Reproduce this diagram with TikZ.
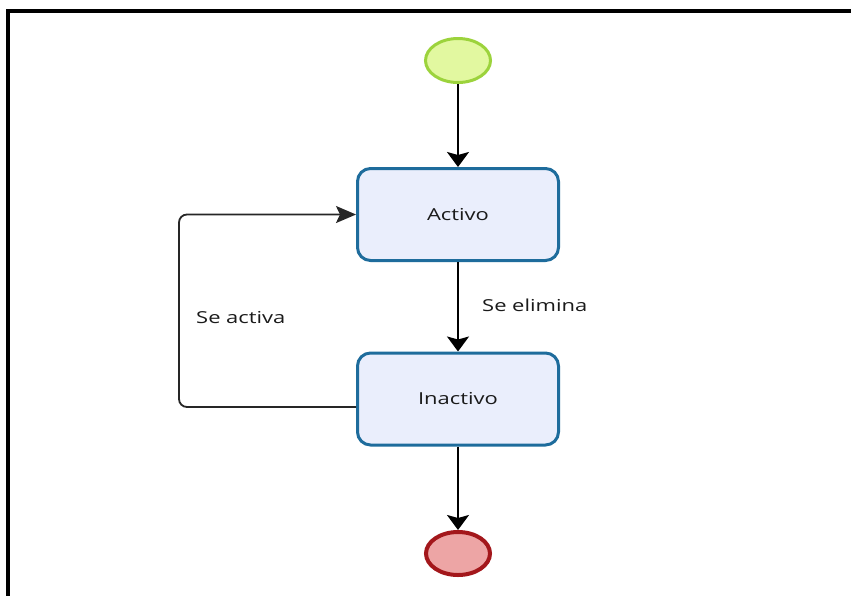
\documentclass[tikz,border=0pt]{standalone}
\usepackage{fontspec}
\usepackage{graphicx}
\setmainfont{Open Sans}
\usetikzlibrary{arrows.meta,calc,shapes.geometric}

\definecolor{boxline}{HTML}{1E6C9C}
\definecolor{boxfill}{HTML}{EAEEFC}
\definecolor{startfill}{HTML}{E2F8A0}
\definecolor{startline}{HTML}{9CD33C}
\definecolor{endfill}{HTML}{EDA5A5}
\definecolor{endline}{HTML}{A3171B}
\definecolor{txt}{HTML}{1A1A1A}

\newcommand{\wide}[1]{\scalebox{1.33}[1]{#1}}

\begin{document}
\begin{tikzpicture}[x=1pt,y=-1pt,
  state/.style={draw=boxline,fill=boxfill,line width=3pt,rounded corners=13pt,
    minimum width=201pt,minimum height=92pt,inner sep=0pt,
    font=\fontsize{16.5}{19}\selectfont,text=txt},
  startev/.style={ellipse,draw=startline,fill=startfill,line width=3pt,
    minimum width=65pt,minimum height=44pt,inner sep=0pt},
  endev/.style={ellipse,draw=endline,fill=endfill,line width=4pt,
    minimum width=64pt,minimum height=43pt,inner sep=0pt},
  flow/.style={draw=black,line width=2pt,
    -{Stealth[length=15pt,width=22pt,inset=3pt]}},
  backflow/.style={draw=black!85,line width=1.8pt,rounded corners=8pt,
    -{Stealth[length=20pt,width=17pt,inset=4pt]}},
  lbl/.style={anchor=west,inner sep=0pt,font=\fontsize{16.5}{19}\selectfont,text=txt}]

\useasboundingbox (0,0) rectangle (851,595);
\fill[white] (0,0) rectangle (851,595);

% outer frame (top and left edges only)
\draw[line width=4pt,line join=miter] (8,597) -- (8,11) -- (853,11);

% nodes
\node[startev] (start) at (458,60.5) {};
\node[state] (activo) at (458,214.5) {\wide{Activo}};
\node[state] (inactivo) at (458,399) {\wide{Inactivo}};
\node[endev] (fin) at (458,553.5) {};

% connectors
\draw[flow] (start) -- (activo);
\draw[flow] (activo) -- (inactivo);
\draw[flow] (inactivo) -- (fin);
\draw[backflow] ([yshift=-8pt]inactivo.west) -- ++(-177,0) |- (activo.west);

% labels
\node[lbl] (lelim) at (482,305) {\wide{Se elimina}};
\node[lbl] (lact) at (196,318) {\wide{Se activa}};
\end{tikzpicture}
\end{document}
